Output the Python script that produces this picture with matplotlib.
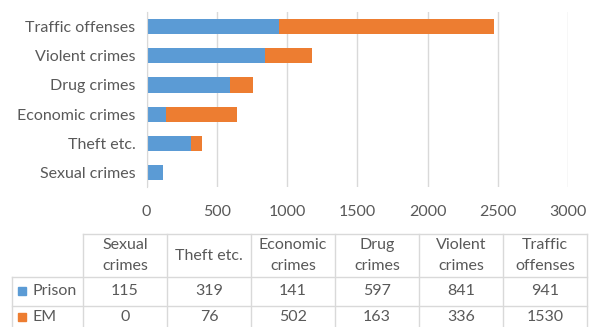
import matplotlib
matplotlib.use('Agg')
import matplotlib.pyplot as plt
from matplotlib.patches import Rectangle

categories = ['Sexual crimes', 'Theft etc.', 'Economic crimes',
              'Drug crimes', 'Violent crimes', 'Traffic offenses']
header_labels = ['Sexual\ncrimes', 'Theft etc.', 'Economic\ncrimes',
                 'Drug\ncrimes', 'Violent\ncrimes', 'Traffic\noffenses']
prison = [115, 319, 141, 597, 841, 941]
em = [0, 76, 502, 163, 336, 1530]
series_names = ['Prison', 'EM']
xticks = [0, 500, 1000, 1500, 2000, 2500, 3000]

BLUE = '#5B9BD5'
ORANGE = '#ED7D31'
TEXT = '#595959'
GRID = '#D9D9D9'
FONT = 'Lato'
FS = 11.5

W, H = 598, 327
fig = plt.figure(figsize=(W / 100, H / 100), dpi=100)

# bar chart area (pixel layout converted to figure fractions)
x0, x1, y0, y1 = 146.5, 568.3, 12, 187
ax = fig.add_axes([x0 / W, 1 - y1 / H, (x1 - x0) / W, (y1 - y0) / H])
ypos = list(range(len(categories)))
ax.barh(ypos, prison, height=0.52, color=BLUE, zorder=3)
ax.barh(ypos, em, left=prison, height=0.52, color=ORANGE, zorder=3)
ax.set_xlim(0, 3000)
ax.set_ylim(-0.5, len(categories) - 0.5)
ax.set_xticks(xticks)
ax.set_xticklabels([str(t) for t in xticks], fontsize=FS, color=TEXT, family=FONT)
ax.set_yticks(ypos)
ax.set_yticklabels(categories, fontsize=FS, color=TEXT, family=FONT)
ax.tick_params(length=0, pad=8)
ax.tick_params(axis='x', pad=13)
ax.grid(axis='x', color=GRID, lw=1, zorder=0)
for s in ['top', 'right', 'bottom']:
    ax.spines[s].set_visible(False)
ax.spines['left'].set_color(GRID)
ax.spines['left'].set_zorder(4)

# data table below the chart, drawn in pixel coordinates
tab = fig.add_axes([0, 0, 1, 1], facecolor='none')
tab.set_xlim(0, W)
tab.set_ylim(H, 0)
tab.axis('off')

lab_left, col0, col_w = 12, 83, 84
row_y = [234, 277, 305.5, 334]
ncol = len(categories)
right = col0 + ncol * col_w
lkw = dict(color=GRID, lw=1)

tab.plot([col0, right], [row_y[0], row_y[0]], **lkw)
for y in row_y[1:]:
    tab.plot([lab_left, right], [y, y], **lkw)
tab.plot([lab_left, lab_left], [row_y[1], row_y[3]], **lkw)
for i in range(ncol + 1):
    xc = col0 + i * col_w
    tab.plot([xc, xc], [row_y[0], row_y[3]], **lkw)

tkw = dict(color=TEXT, family=FONT, fontsize=FS, ha='center', va='center')
for i, lab in enumerate(header_labels):
    xc = col0 + (i + 0.5) * col_w
    tab.text(xc, (row_y[0] + row_y[1]) / 2, lab, linespacing=1.65, **tkw)
    tab.text(xc, (row_y[1] + row_y[2]) / 2, str(prison[i]), **tkw)
    tab.text(xc, (row_y[2] + row_y[3]) / 2 - 3, str(em[i]), **tkw)

for j, (name, c) in enumerate(zip(series_names, [BLUE, ORANGE])):
    yc = (row_y[j + 1] + row_y[j + 2]) / 2 - (3 if j == 1 else 0)
    tab.add_patch(Rectangle((18, yc - 4), 8, 8, color=c))
    tab.text(32, yc, name, color=TEXT, family=FONT, fontsize=FS,
             ha='left', va='center')

fig.savefig('out.png', dpi=100)
